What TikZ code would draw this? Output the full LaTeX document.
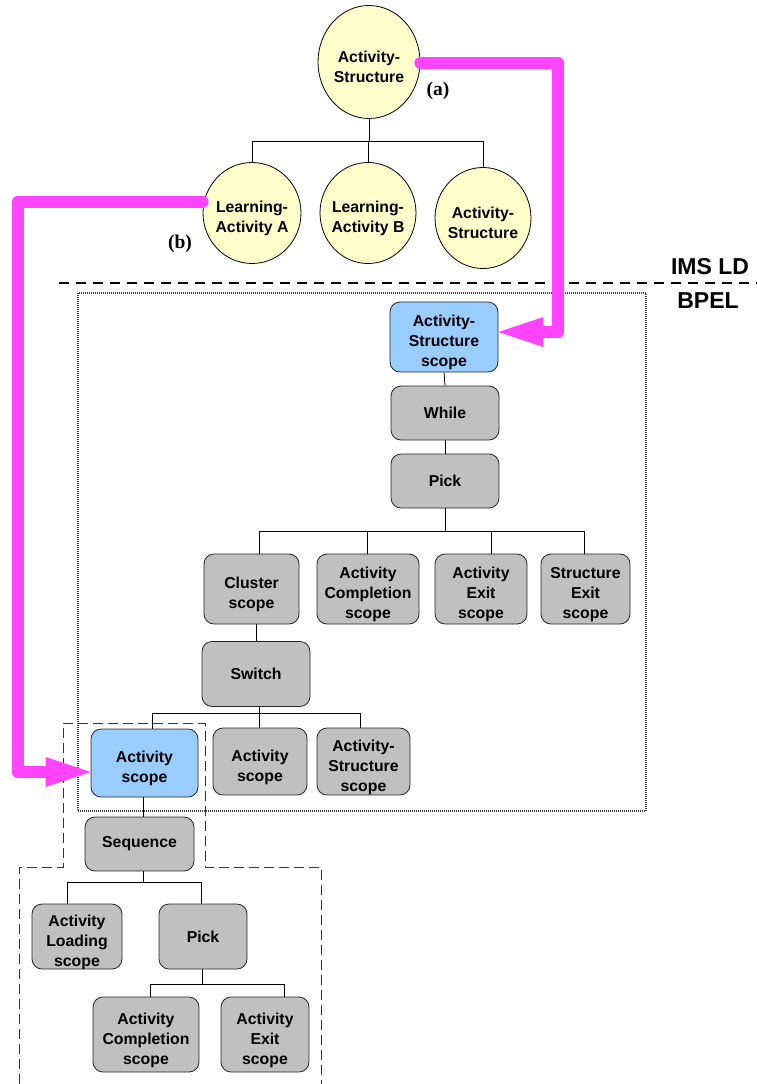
\documentclass[tikz,border=0pt]{standalone}
\usepackage{fontspec}
\setmainfont{Liberation Sans}
\newfontfamily\serifbf{Liberation Serif}
\usetikzlibrary{arrows.meta,shapes.geometric}
\definecolor{cyellow}{HTML}{FFFFCC}
\definecolor{cgray}{HTML}{C0C0C0}
\definecolor{cblue}{HTML}{99CCFF}
\definecolor{cpink}{HTML}{FF44FF}
\begin{document}
\begin{tikzpicture}[x=1pt,y=-1pt,
  lbl/.style={font=\fontsize{15.8}{20}\selectfont\bfseries, align=center, inner sep=0pt},
  circ/.style={ellipse, draw=black, line width=0.8pt, fill=cyellow, inner sep=0pt},
  bx/.style={rectangle, rounded corners=10pt, draw=black!85, line width=0.8pt, fill=cgray, lbl},
  twol/.style={bx, text height=39.5pt, text depth=0pt},
  threel/.style={bx, text height=59.5pt, text depth=0pt},
  conn/.style={draw=black, line width=0.8pt},
  pinkarr/.style={draw=cpink, line width=12pt, line join=round, line cap=round,
     -{Triangle[length=45pt,width=30pt,line width=0pt]}},
  dashbox/.style={draw=black!80, line width=0.8pt, dash pattern=on 10pt off 5pt},
  dotbox/.style={draw=black!75, line width=1.2pt, dash pattern=on 1pt off 1pt},
  sepline/.style={draw=black, line width=1.4pt, dash pattern=on 10pt off 7pt},
  biglbl/.style={font=\fontsize{23}{26}\selectfont\bfseries, inner sep=0pt},
  serlbl/.style={font=\fontsize{19.5}{22}\selectfont\serifbf\bfseries, inner sep=0pt}
]
\useasboundingbox (0,0) rectangle (757,1084);

% frames
\draw[dotbox] (78,293) rectangle (646,811);
\draw[dashbox] (19,1084) -- (19,867) -- (63,867) -- (63,723) -- (205,723) -- (205,867) -- (321,867) -- (321,1084);
\draw[sepline] (59,283) -- (757,283);
\node[biglbl] (imsld) at (710,266.5) {IMS LD};
\node[biglbl] (bpel) at (708,301) {BPEL};

% IMS LD tree
\node[circ, minimum width=102pt, minimum height=113pt] (topc) at (369,62) {};
\node[lbl] (topct) at ([yshift=-5pt]topc) {Activity-\\Structure};
\node[circ, minimum width=98pt, minimum height=101pt] (lA) at (252,213) {};
\node[lbl] (lAt) at ([yshift=-5pt]lA) {Learning-\\Activity A};
\node[circ, minimum width=96pt, minimum height=101pt] (lB) at (368,213) {};
\node[lbl] (lBt) at ([yshift=-5pt]lB) {Learning-\\Activity B};
\node[circ, minimum width=96pt, minimum height=101pt] (cS) at (483,218) {};
\node[lbl] (cSt) at ([yshift=-5pt]cS) {Activity-\\Structure};
\node[serlbl] (la) at (438,91) {(a)};
\node[serlbl] (lb) at (180,244) {(b)};

\draw[conn] (topc.south) -- ++(0,22) coordinate (busT);
\draw[conn] (busT) -| (lA.north);
\draw[conn] (busT) -| (lB.north);
\draw[conn] (busT) -| (cS.north);

% BPEL tree
\node[threel, fill=cblue, minimum width=108pt, minimum height=70pt] (asscope) at (444,337) {Activity-\\Structure\\scope};
\node[bx, minimum width=108pt, minimum height=54pt] (while) at (445,413) {While};
\node[bx, minimum width=108pt, minimum height=54pt] (pickA) at (445,481) {Pick};
\node[twol, minimum width=95pt, minimum height=70pt] (cluster) at (251.5,589) {Cluster\\scope};
\node[threel, minimum width=102pt, minimum height=70pt] (compA) at (368,589) {Activity\\Completion\\scope};
\node[threel, minimum width=92pt, minimum height=70pt] (exitA) at (481,589) {Activity\\Exit\\scope};
\node[threel, minimum width=89pt, minimum height=70pt] (strexit) at (585.5,589) {Structure\\Exit\\scope};
\node[bx, minimum width=108pt, minimum height=65pt] (switch) at (256,674) {Switch};
\node[twol, fill=cblue, minimum width=107pt, minimum height=68pt] (actB) at (144.5,763) {Activity\\scope};
\node[twol, minimum width=94pt, minimum height=67pt] (actG) at (260,761.5) {Activity\\scope};
\node[threel, minimum width=93pt, minimum height=67pt] (asG) at (363.5,761.5) {Activity-\\Structure\\scope};
\node[bx, minimum width=109pt, minimum height=54pt] (seq) at (139.5,844) {Sequence};
\node[threel, minimum width=90pt, minimum height=65pt] (load) at (77,936.5) {Activity\\Loading\\scope};
\node[bx, minimum width=88pt, minimum height=65pt] (pickB) at (203,936.5) {Pick};
\node[threel, minimum width=106pt, minimum height=75pt] (compB) at (146,1034.5) {Activity\\Completion\\scope};
\node[threel, minimum width=88pt, minimum height=75pt] (exitB) at (265,1034.5) {Activity\\Exit\\scope};

\draw[conn] (asscope.south) -- (while.north);
\draw[conn] (while.south) -- (pickA.north);
\draw[conn] (pickA.south) -- ++(0,23) coordinate (busP);
\draw[conn] (busP) -| ([xshift=7.5pt]cluster.north);
\draw[conn] (busP) -| ([xshift=-1pt]compA.north);
\draw[conn] (busP) -| ([xshift=10pt]exitA.north);
\draw[conn] (busP) -| ([xshift=-1.5pt]strexit.north);
\draw[conn] (switch.north |- cluster.south) -- (switch.north);
\draw[conn] ([xshift=3pt]switch.south) -- ++(0,6.5) coordinate (busS);
\draw[conn] (busS) -| ([xshift=7.5pt]actB.north);
\draw[conn] (busS) -| ([xshift=-1pt]actG.north);
\draw[conn] (busS) -| ([xshift=-3.5pt]asG.north);
\draw[conn] ([xshift=-1.5pt]actB.south) -- ([xshift=3.5pt]seq.north);
\draw[conn] ([xshift=3.5pt]seq.south) -- ++(0,11) coordinate (busQ);
\draw[conn] (busQ) -| ([xshift=-10pt]load.north);
\draw[conn] (busQ) -| ([xshift=-2pt]pickB.north);
\draw[conn] ([xshift=-1pt]pickB.south) -- ++(0,15) coordinate (busR);
\draw[conn] (busR) -| ([xshift=4pt]compB.north);
\draw[conn] (busR) -| ([xshift=19pt]exitB.north);

% pink mapping arrows
\draw[pinkarr] ([yshift=-1pt]topc.east) -| ([xshift=60pt,yshift=5pt]asscope.east) -- ([yshift=5pt]asscope.east);
\draw[pinkarr] ([yshift=11pt]lA.west) -| ([xshift=-73pt,yshift=-9pt]actB.west) -- ([yshift=-9pt]actB.west);
\end{tikzpicture}
\end{document}
